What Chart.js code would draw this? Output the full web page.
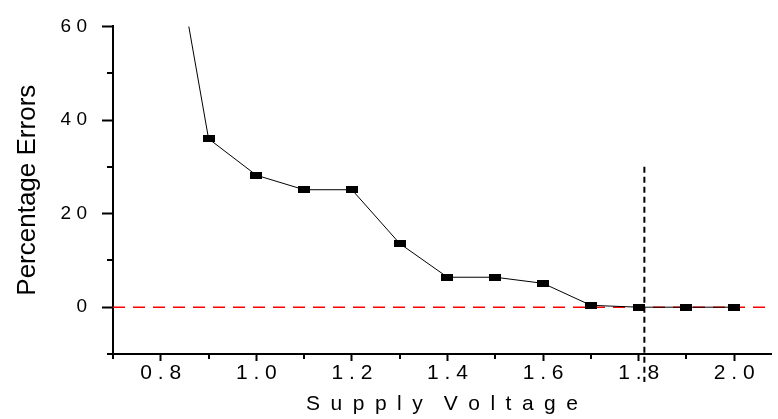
<!DOCTYPE html>
<html>
<head>
<meta charset="utf-8">
<script src="https://cdn.jsdelivr.net/npm/chart.js@4.4.1/dist/chart.umd.min.js"></script>
<style>
    html, body { margin: 0; padding: 0; background: #fff; }
    #wrap { width: 778px; height: 419px; }
</style>
</head>
<body>
<div id="wrap"><canvas id="errChart" width="778" height="419"></canvas></div>
<script>
// Supply voltage sweep vs. percentage errors
const voltages = [0.8, 0.9, 1.0, 1.1, 1.2, 1.3, 1.4, 1.5, 1.6, 1.7, 1.8, 1.9, 2.0];
const percentErrors = [94, 36, 28.2, 25.1, 25.1, 13.6, 6.4, 6.4, 5.1, 0.4, 0, 0, 0];

// Axis ranges and ticks
const xRange = [0.7, 2.077];
const yRange = [-10, 60];
const xMajorTicks = [0.8, 1.0, 1.2, 1.4, 1.6, 1.8, 2.0];
const xMinorTicks = [0.7, 0.9, 1.1, 1.3, 1.5, 1.7, 1.9];
const yMajorTicks = [0, 20, 40, 60];
const yMinorTicks = [-10, 10, 30, 50];

// Reference lines
const zeroLevel = 0;
const markerVoltage = 1.812;
const markerSpan = [30, -16];

const FONT = "'Liberation Sans', Arial, sans-serif";

// spread letters out like the original plot software does
function spaced(text, sep) {
    return text.split(' ').map(w => w.split('').join(sep)).join(sep + sep);
}

// small black rectangle used as point marker
const markerImg = document.createElement('canvas');
markerImg.width = 12;
markerImg.height = 7;
const mctx = markerImg.getContext('2d');
mctx.fillStyle = '#000';
mctx.fillRect(0, 0, 12, 7);

// short minor ticks (Chart.js only draws one tick length per axis)
const minorTicks = {
    id: 'minorTicks',
    afterDraw(chart) {
        const { ctx, scales: { x, y } } = chart;
        ctx.save();
        ctx.strokeStyle = '#000';
        ctx.lineWidth = 2;
        ctx.beginPath();
        xMinorTicks.forEach(v => {
            const px = Math.round(x.getPixelForValue(v));
            ctx.moveTo(px, x.top);
            ctx.lineTo(px, x.top + 5);
        });
        yMinorTicks.forEach(v => {
            const py = Math.round(y.getPixelForValue(v));
            ctx.moveTo(y.right, py);
            ctx.lineTo(y.right - 6, py);
        });
        ctx.stroke();
        ctx.restore();
    }
};

new Chart(document.getElementById('errChart'), {
    type: 'line',
    data: {
        datasets: [
            {
                data: voltages.map((v, i) => ({ x: v, y: percentErrors[i] })),
                borderColor: '#000',
                borderWidth: 1,
                pointStyle: markerImg,
                pointRadius: 6,
                tension: 0
            },
            {
                data: [{ x: xRange[0], y: zeroLevel }, { x: xRange[1], y: zeroLevel }],
                borderColor: '#ff0000',
                borderWidth: 1.5,
                borderDash: [12, 8],
                pointRadius: 0
            },
            {
                data: [{ x: markerVoltage, y: markerSpan[0] }, { x: markerVoltage, y: markerSpan[1] }],
                borderColor: '#000',
                borderWidth: 2,
                borderDash: [6, 4],
                pointRadius: 0,
                clip: false
            }
        ]
    },
    options: {
        responsive: false,
        animation: false,
        layout: { padding: { top: 19, left: 0, right: 0, bottom: 0 } },
        plugins: {
            legend: { display: false },
            tooltip: { enabled: false }
        },
        scales: {
            x: {
                type: 'linear',
                min: xRange[0],
                max: xRange[1],
                afterBuildTicks: s => { s.ticks = xMajorTicks.map(v => ({ value: v })); },
                afterFit: s => { s.height = 65; },
                ticks: {
                    callback: v => v.toFixed(1).split('').join(' '),
                    color: '#000',
                    font: { family: FONT, size: 21 },
                    padding: 0,
                    maxRotation: 0,
                    autoSkip: false
                },
                grid: {
                    drawOnChartArea: false,
                    drawTicks: true,
                    tickLength: 7,
                    tickWidth: 2,
                    tickColor: '#000'
                },
                border: { display: true, color: '#000', width: 2 },
                title: {
                    display: true,
                    text: spaced('Supply Voltage', '\u2002'),
                    color: '#000',
                    font: { family: FONT, size: 21 },
                    padding: { top: 0, bottom: 2 }
                }
            },
            y: {
                min: yRange[0],
                max: yRange[1],
                afterBuildTicks: s => { s.ticks = yMajorTicks.map(v => ({ value: v })); },
                afterFit: s => { s.width = 113; },
                ticks: {
                    callback: v => String(v).split('').join(' '),
                    color: '#000',
                    font: { family: FONT, size: 19 },
                    padding: 15
                },
                grid: {
                    drawOnChartArea: false,
                    drawTicks: true,
                    tickLength: 11,
                    tickWidth: 2,
                    tickColor: '#000'
                },
                border: { display: true, color: '#000', width: 2 },
                title: {
                    display: true,
                    text: 'Percentage Errors',
                    color: '#000',
                    font: { family: FONT, size: 26 },
                    padding: { top: 12, bottom: 0 }
                }
            }
        }
    },
    plugins: [minorTicks]
});
</script>
</body>
</html>
